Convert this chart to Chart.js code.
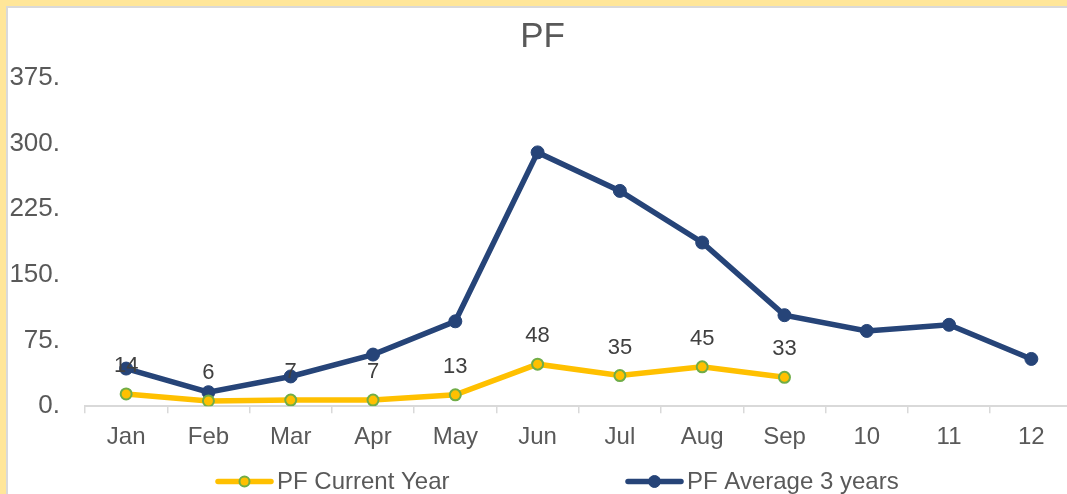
<!DOCTYPE html>
<html>
<head>
<meta charset="utf-8">
<script src="https://cdn.jsdelivr.net/npm/chart.js@4"></script>
<style>
  html, body { margin: 0; padding: 0; overflow: hidden; background: #FFE699; width: 1067px; height: 494px; }
  #frame { position: absolute; left: 6px; top: 6px; width: 1100px; height: 488px;
           border-left: 2px solid #D9D9D9; border-top: 2px solid #D9D9D9; background: #fff; }
  #wrap { position: absolute; left: 0; top: 0; width: 1072px; height: 486px; }
</style>
</head>
<body>
<div id="frame"><div id="wrap"><canvas id="c"></canvas></div></div>
<script>
const categories = ['Jan','Feb','Mar','Apr','May','Jun','Jul','Aug','Sep','10','11','12'];
const currentYear = [14, 6, 7, 7, 13, 48, 35, 45, 33];
const average3Years = [43, 16, 34, 59, 97, 290, 246, 187, 104, 86, 93, 54];
const yTicks = [0, 75, 150, 225, 300, 375];
const seriesNames = ['PF Current Year', 'PF Average 3 years'];

const FONT = "'Liberation Sans', Arial, sans-serif";
const YELLOW = '#FFC000', GREEN = '#70AD47', NAVY = '#264478', GRID = '#D9D9D9', TXT = '#595959';

const dataLabelsPlugin = {
  id: 'dataLabels',
  afterDatasetsDraw(chart) {
    const ctx = chart.ctx;
    ctx.save();
    ctx.font = '22px ' + FONT;
    ctx.textAlign = 'center';
    ctx.textBaseline = 'middle';
    // average labels in white (as in the original, mostly invisible)
    chart.getDatasetMeta(1).data.forEach((pt, i) => {
      ctx.fillStyle = '#FFFFFF';
      ctx.fillText(String(average3Years[i]), pt.x, pt.y - 28);
    });
    // current year labels above the points
    chart.getDatasetMeta(0).data.forEach((pt, i) => {
      ctx.fillStyle = '#404040';
      ctx.fillText(String(currentYear[i]), pt.x, pt.y - 28);
    });
    ctx.restore();
  }
};

const legendPlugin = {
  id: 'customLegend',
  afterDraw(chart) {
    const ctx = chart.ctx;
    const y = 473.5;
    const starts = [208, 618];
    const radii = [5, 6];
    ctx.save();
    chart.data.datasets.forEach((ds, i) => {
      const x0 = starts[i];
      ctx.strokeStyle = ds.borderColor;
      ctx.lineWidth = 5.5;
      ctx.lineCap = 'round';
      ctx.beginPath();
      ctx.moveTo(x0 + 2, y);
      ctx.lineTo(x0 + 55, y);
      ctx.stroke();
      ctx.beginPath();
      ctx.arc(x0 + 28.5, y, radii[i], 0, Math.PI * 2);
      ctx.fillStyle = ds.pointBackgroundColor;
      ctx.fill();
      ctx.lineWidth = ds.pointBorderWidth;
      ctx.strokeStyle = ds.pointBorderColor;
      ctx.stroke();
      ctx.fillStyle = TXT;
      ctx.font = '24px ' + FONT;
      ctx.textAlign = 'left';
      ctx.textBaseline = 'middle';
      ctx.fillText(ds.label, x0 + 61, y + 1);
    });
    ctx.restore();
  }
};

new Chart(document.getElementById('c'), {
  type: 'line',
  data: {
    labels: categories,
    datasets: [
      {
        label: seriesNames[0],
        data: currentYear,
        borderColor: YELLOW,
        backgroundColor: YELLOW,
        borderWidth: 5.5,
        pointRadius: 5.5,
        pointBackgroundColor: YELLOW,
        pointBorderColor: GREEN,
        pointBorderWidth: 2,
        tension: 0,
        order: 1
      },
      {
        label: seriesNames[1],
        data: average3Years,
        borderColor: NAVY,
        backgroundColor: NAVY,
        borderWidth: 5.5,
        pointRadius: 6.5,
        pointBackgroundColor: NAVY,
        pointBorderColor: NAVY,
        pointBorderWidth: 1,
        tension: 0,
        order: 2
      }
    ]
  },
  options: {
    responsive: true,
    maintainAspectRatio: false,
    animation: false,
    events: [],
    layout: { padding: { left: 0, right: 3, top: 0, bottom: 32 } },
    plugins: {
      legend: { display: false },
      tooltip: { enabled: false },
      title: {
        display: true,
        text: 'PF',
        color: TXT,
        font: { family: FONT, size: 35, weight: 'normal', lineHeight: 1.2 },
        padding: { top: 8, bottom: 20 }
      }
    },
    scales: {
      x: {
        offset: true,
        grid: { display: true, offset: true, drawOnChartArea: false, drawTicks: true, tickLength: 7, color: GRID, lineWidth: 1.5 },
        border: { display: true, color: GRID, width: 2 },
        ticks: { color: TXT, font: { family: FONT, size: 24 }, padding: 10, maxRotation: 0, autoSkip: false }
      },
      y: {
        min: yTicks[0],
        max: yTicks[yTicks.length - 1],
        afterBuildTicks: (axis) => { axis.ticks = yTicks.map(v => ({ value: v })); },
        afterFit: (axis) => { axis.width = 77; },
        grid: { display: false, drawTicks: false },
        border: { display: false },
        ticks: { color: TXT, font: { family: FONT, size: 26 }, padding: 25, callback: (v) => v + '.' }
      }
    }
  },
  plugins: [dataLabelsPlugin, legendPlugin]
});
</script>
</body>
</html>
